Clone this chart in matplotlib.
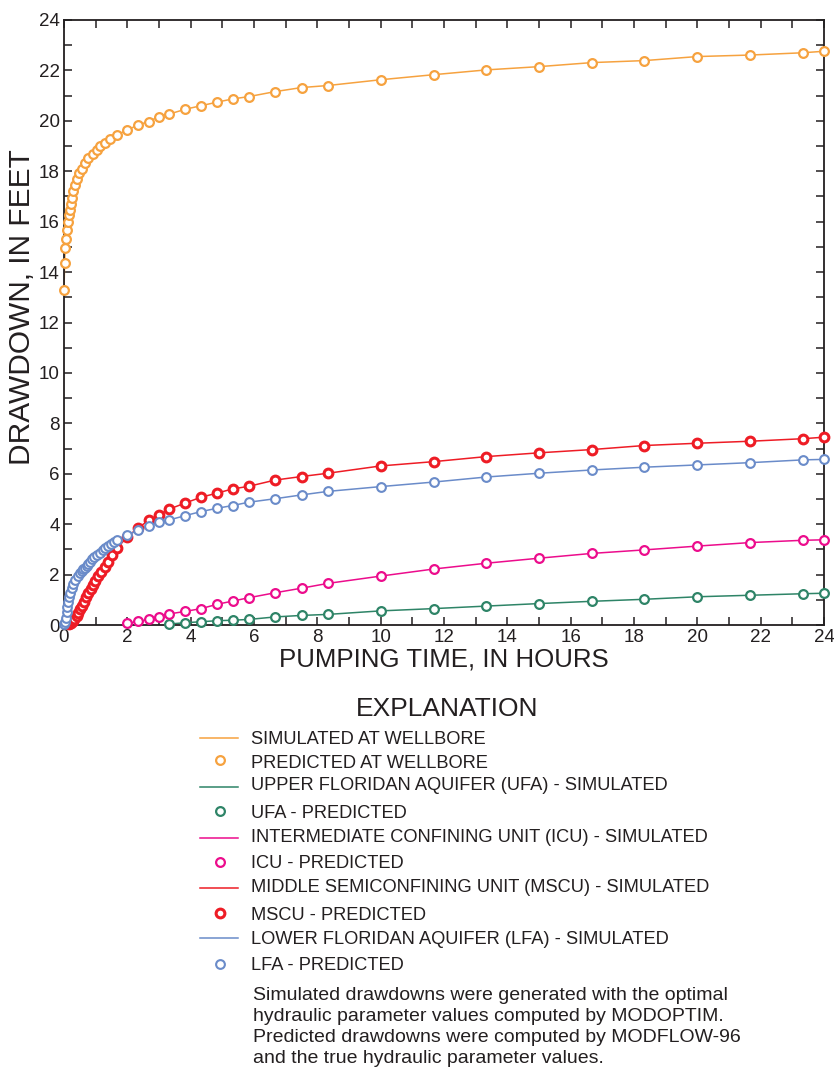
import matplotlib
matplotlib.use("Agg")
import matplotlib.pyplot as plt
from matplotlib.lines import Line2D
from matplotlib.ticker import MultipleLocator

plt.rcParams['font.family'] = ['Liberation Sans', 'DejaVu Sans']

# ---- data (hours, feet) ----
t_wellbore = [0.0, 0.02, 0.04, 0.06, 0.09, 0.14, 0.16, 0.19, 0.22, 0.24, 0.29, 0.35, 0.4, 0.47,
              0.56, 0.66, 0.77, 0.9, 1.03, 1.14, 1.29, 1.45, 1.67, 2.0, 2.33, 2.67, 3.0, 3.33,
              3.83, 4.33, 4.83, 5.33, 5.83, 6.67, 7.5, 8.33, 10, 11.67, 13.33, 15, 16.67, 18.33,
              20, 21.67, 23.33, 24]
d_wellbore = [13.3, 14.38, 14.95, 15.3, 15.67, 16.0, 16.27, 16.47, 16.7, 16.93, 17.2, 17.46, 17.69,
              17.92, 18.08, 18.32, 18.52, 18.69, 18.85, 19.0, 19.14, 19.27, 19.44, 19.64, 19.83,
              19.97, 20.17, 20.27, 20.46, 20.6, 20.74, 20.87, 20.96, 21.16, 21.32, 21.4, 21.63,
              21.83, 22.02, 22.15, 22.31, 22.39, 22.55, 22.61, 22.7, 22.76]

t_ufa = [3.33, 3.83, 4.33, 4.83, 5.33, 5.83, 6.67, 7.5, 8.33, 10, 11.67, 13.33, 15, 16.67, 18.33,
         20, 21.67, 23.33, 24]
d_ufa = [0.04, 0.09, 0.13, 0.17, 0.19, 0.22, 0.32, 0.38, 0.42, 0.56, 0.65, 0.75, 0.85, 0.94, 1.02,
         1.12, 1.18, 1.24, 1.26]

t_icu = [2.0, 2.33, 2.67, 3.0, 3.33, 3.83, 4.33, 4.83, 5.33, 5.83, 6.67, 7.5, 8.33, 10, 11.67,
         13.33, 15, 16.67, 18.33, 20, 21.67, 23.33, 24]
d_icu = [0.07, 0.14, 0.22, 0.33, 0.44, 0.54, 0.65, 0.82, 0.95, 1.08, 1.28, 1.46, 1.65, 1.94, 2.22,
         2.45, 2.65, 2.84, 2.98, 3.13, 3.27, 3.36, 3.38]

t_mscu = [0.17, 0.22, 0.27, 0.33, 0.4, 0.45, 0.5, 0.57, 0.63, 0.7, 0.77, 0.84, 0.92, 0.98, 1.07,
          1.17, 1.28, 1.38, 1.5, 1.67, 2.0, 2.33, 2.67, 3.0, 3.33, 3.83, 4.33, 4.83, 5.33, 5.83,
          6.67, 7.5, 8.33, 10, 11.67, 13.33, 15, 16.67, 18.33, 20, 21.67, 23.33, 24]
d_mscu = [0.02, 0.08, 0.15, 0.24, 0.36, 0.49, 0.62, 0.76, 0.93, 1.1, 1.26, 1.42, 1.59, 1.76, 1.94,
          2.12, 2.29, 2.48, 2.78, 3.04, 3.5, 3.84, 4.15, 4.37, 4.6, 4.84, 5.07, 5.23, 5.4, 5.5,
          5.75, 5.89, 6.02, 6.31, 6.48, 6.68, 6.83, 6.96, 7.12, 7.21, 7.29, 7.39, 7.45]

t_lfa = [0.0, 0.03, 0.05, 0.08, 0.1, 0.14, 0.16, 0.19, 0.24, 0.29, 0.35, 0.43, 0.5, 0.56, 0.61,
         0.67, 0.72, 0.77, 0.82, 0.89, 0.96, 1.05, 1.14, 1.22, 1.29, 1.38, 1.48, 1.57, 1.67, 2.0,
         2.33, 2.67, 3.0, 3.33, 3.83, 4.33, 4.83, 5.33, 5.83, 6.67, 7.5, 8.33, 10, 11.67, 13.33,
         15, 16.67, 18.33, 20, 21.67, 23.33, 24]
d_lfa = [0.05, 0.12, 0.27, 0.53, 0.73, 0.93, 1.12, 1.28, 1.46, 1.63, 1.79, 1.94, 2.08, 2.15, 2.21,
         2.28, 2.34, 2.41, 2.49, 2.6, 2.69, 2.78, 2.87, 2.96, 3.04, 3.12, 3.21, 3.28, 3.36, 3.57,
         3.75, 3.93, 4.07, 4.17, 4.34, 4.5, 4.63, 4.74, 4.87, 5.01, 5.16, 5.3, 5.49, 5.67, 5.87,
         6.02, 6.15, 6.26, 6.35, 6.44, 6.55, 6.57]

sim_labels = ["SIMULATED AT WELLBORE",
              "UPPER FLORIDAN AQUIFER (UFA) - SIMULATED",
              "INTERMEDIATE CONFINING UNIT (ICU) - SIMULATED",
              "MIDDLE SEMICONFINING UNIT (MSCU) - SIMULATED",
              "LOWER FLORIDAN AQUIFER (LFA) - SIMULATED"]
pred_labels = ["PREDICTED AT WELLBORE", "UFA - PREDICTED", "ICU - PREDICTED",
               "MSCU - PREDICTED", "LFA - PREDICTED"]
note = ("Simulated drawdowns were generated with the optimal\n"
        "hydraulic parameter values computed by MODOPTIM.\n"
        "Predicted drawdowns were computed by MODFLOW-96\n"
        "and the true hydraulic parameter values.")

colors = ["#F6A23F", "#2E8467", "#EC0C8C", "#EE1C25", "#6A8BC9"]
series = [(t_wellbore, d_wellbore), (t_ufa, d_ufa), (t_icu, d_icu),
          (t_mscu, d_mscu), (t_lfa, d_lfa)]
mew = [1.6, 1.6, 1.6, 2.2, 1.5]

W, H = 834, 1071
fig = plt.figure(figsize=(W / 100, H / 100), dpi=100)
ax = fig.add_axes([64 / W, 1 - 625 / H, (824 - 64) / W, (625 - 20) / H])

for (t, d), c, mw in zip(series, colors, mew):
    ax.plot(t, d, '-', color=c, lw=1.1, zorder=2)
    ax.plot(t, d, 'o', mfc='white', mec=c, mew=mw, ms=6.3, zorder=3, clip_on=False)

ax.set_xlim(0, 24)
ax.set_ylim(0, 24)
ax.xaxis.set_major_locator(MultipleLocator(2))
ax.xaxis.set_minor_locator(MultipleLocator(1))
ax.yaxis.set_major_locator(MultipleLocator(2))
ax.yaxis.set_minor_locator(MultipleLocator(1))
ax.tick_params(which='both', direction='in', top=True, right=True, length=6, width=1.1,
               color='#231F20')
ax.tick_params(which='major', labelsize=13.5, pad=3, labelcolor='#231F20')
for s in ax.spines.values():
    s.set_linewidth(1.3)
    s.set_color('#231F20')

ax.set_xlabel("PUMPING TIME, IN HOURS", fontsize=18.6, color='#231F20', labelpad=1)
ax.set_ylabel("DRAWDOWN, IN FEET", fontsize=21.5, color='#231F20')
ax.yaxis.set_label_coords(-0.037, 0.526)

# ---- explanation ----
def fx(x):
    return x / W

def fy(y):
    return 1 - y / H

fig.text(fx(447), fy(709), "EXPLANATION", fontsize=19, ha='center', va='center', color='#231F20')
line_y = [738, 787, 838, 888, 938]
mark_y = [760, 811, 862, 913, 964]
text_sim_y = [739, 786, 838, 888, 939]
text_pred_y = [763, 813, 864, 915, 966]
for i in range(5):
    c = colors[i]
    fig.add_artist(Line2D([fx(200), fx(238)], [fy(line_y[i]), fy(line_y[i])], color=c, lw=1.1,
                          transform=fig.transFigure))
    fig.add_artist(Line2D([fx(220)], [fy(mark_y[i])], marker='o', mfc='white', mec=c,
                          mew=mew[i], ms=6.3, transform=fig.transFigure))
    fig.text(fx(251), fy(text_sim_y[i]), sim_labels[i], fontsize=13.15, va='center',
             color='#231F20')
    fig.text(fx(251), fy(text_pred_y[i]), pred_labels[i], fontsize=13.15, va='center',
             color='#231F20')

fig.text(fx(253), fy(987), note, fontsize=14, va='top', ha='left', color='#231F20',
         linespacing=1.3)

fig.savefig("out.png", dpi=100)
